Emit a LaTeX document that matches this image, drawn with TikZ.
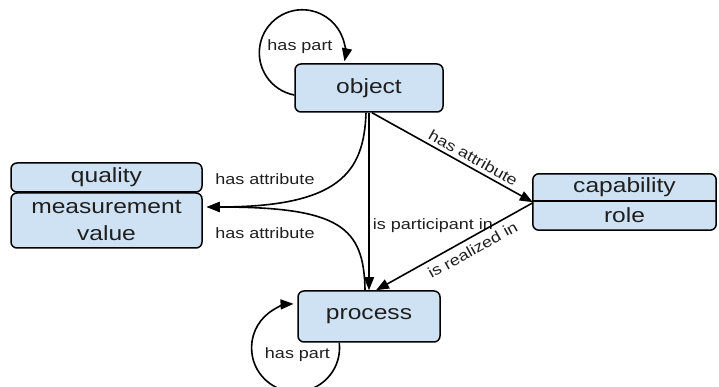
\documentclass[tikz,border=0pt]{standalone}
\usepackage{fontspec}
\setmainfont{Liberation Sans}[FakeStretch=1.2]
\usetikzlibrary{arrows.meta,backgrounds}
\definecolor{boxfill}{HTML}{CFE2F3}
\definecolor{ink}{HTML}{1F1F1F}
\begin{document}
\begin{tikzpicture}[x=1pt,y=1pt,
  boxfont/.style={font=\fontsize{20.5}{27}\selectfont, text=ink},
  box/.style={boxfont, draw=black, line width=1.5pt, fill=boxfill,
    rounded corners=6pt, inner sep=0pt, align=center},
  plainbox/.style={boxfont, inner sep=0pt},
  lbl/.style={font=\fontsize{15}{18}\selectfont, text=ink, inner sep=2pt},
  rel/.style={line width=1.6pt, draw=black, -{Triangle[length=13pt,width=10pt]}},
]
\useasboundingbox (0,0) rectangle (719,387);

% main classes
\node[box, minimum width=148pt, minimum height=48pt] (object) at (369,299) {object};
\node[box, minimum width=142pt, minimum height=51pt] (process) at (369,70.5) {process};
\node[box, minimum width=191pt, minimum height=29pt] (quality) at (106.5,209.5) {quality};
\node[box, minimum width=191pt, minimum height=55pt] (mv) at (106.5,166.5) {measurement\\value};

% capability / role share one outlined box
\node[plainbox, minimum width=183pt, minimum height=27pt] (capability) at (624.5,199.5) {capability};
\node[plainbox, minimum width=183pt, minimum height=29pt] (role) at (624.5,171.5) {role};
\begin{scope}[on background layer]
  \draw[line width=1.5pt, fill=boxfill, rounded corners=6pt]
    (capability.north west) rectangle (role.south east);
\end{scope}
\draw[line width=1.5pt] (capability.south west) -- (capability.south east);

% self loops
\draw[rel] ([yshift=-7pt]object.west) arc[start angle=-100.8, end angle=-371.5, radius=43];
\node[lbl] (partobj) at (300,340) {has part};
\draw[rel] ([xshift=42pt]process.south west) arc[start angle=6.6, end angle=-267.4, radius=44];
\node[lbl] (partproc) at (297.5,32) {has part};

% relations
\draw[rel] (object.south) -- node[lbl, pos=0.634, anchor=west, inner sep=3pt] (partin) {is participant in} (process.north);
\draw[rel] ([xshift=3pt]object.south) -- node[lbl, pos=0.6, above, sloped, inner sep=3.5pt] (attrcap) {has attribute} ([yshift=-1pt]capability.south west);
\draw[rel] ([yshift=-2pt]role.north west) -- node[lbl, pos=0.42, below, sloped, inner sep=5.5pt] (realized) {is realized in} ([xshift=7pt]process.north);

% attributes towards the measurement value
\draw[rel] ([xshift=-3pt]object.south) .. controls (364,215) and (340,180) .. ([xshift=4pt,yshift=13.5pt]mv.east);
\draw[rel] ([xshift=-4pt]process.north) .. controls (364,160) and (340,180) .. ([xshift=4pt,yshift=13.5pt]mv.east);
\node[lbl] (attrup) at (265,208) {has attribute};
\node[lbl] (attrdown) at (265,154) {has attribute};
\end{tikzpicture}
\end{document}
